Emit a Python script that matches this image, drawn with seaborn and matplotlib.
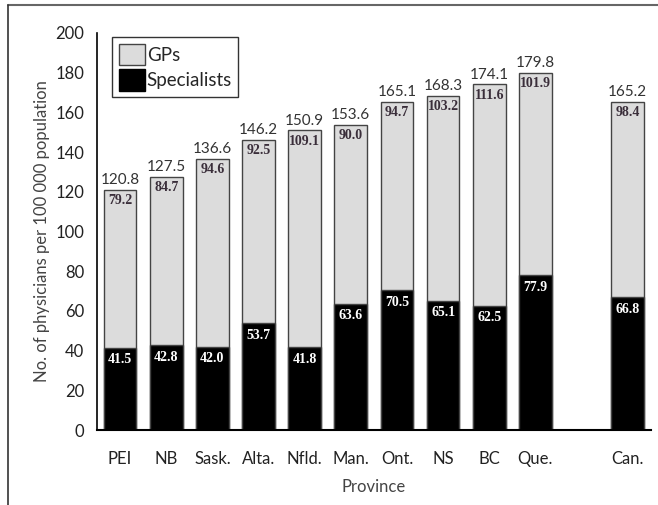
import matplotlib
matplotlib.use("Agg")
import matplotlib.pyplot as plt
from matplotlib.lines import Line2D
from matplotlib.patches import Patch
import seaborn as sns
import pandas as pd

provinces = ["PEI", "NB", "Sask.", "Alta.", "Nfld.", "Man.", "Ont.", "NS", "BC", "Que.", "Can."]
specialists = [41.5, 42.8, 42.0, 53.7, 41.8, 63.6, 70.5, 65.1, 62.5, 77.9, 66.8]
gps = [79.2, 84.7, 94.6, 92.5, 109.1, 90.0, 94.7, 103.2, 111.6, 101.9, 98.4]
totals = [120.8, 127.5, 136.6, 146.2, 150.9, 153.6, 165.1, 168.3, 174.1, 179.8, 165.2]
# empty slot between Que. and Can.
order = provinces[:10] + [" "] + provinces[10:]

df = pd.DataFrame({"province": provinces, "spec": specialists, "gp": gps, "total": totals})

sns.set_style("white")
plt.rcParams["font.family"] = ["Lato", "DejaVu Sans"]

fig = plt.figure(figsize=(6.58, 5.05), dpi=100)
ax = fig.add_axes([0.1474, 0.1485, 0.8416, 0.7862])

sns.barplot(data=df, x="province", y="total", order=order, color="#dcdcdc",
            width=0.71, edgecolor="#444444", linewidth=1.0, saturation=1, ax=ax)
sns.barplot(data=df, x="province", y="spec", order=order, color="black",
            width=0.71, edgecolor="#444444", linewidth=1.0, saturation=1, ax=ax)

pos = {p: i for i, p in enumerate(order)}
serif = ["Liberation Serif", "DejaVu Serif"]
for _, r in df.iterrows():
    x = pos[r["province"]]
    ax.annotate(f"{r['total']:.1f}", (x, r["total"]), xytext=(0, 2), textcoords="offset points",
                ha="center", va="bottom", fontsize=11, color="#333333")
    ax.annotate(f"{r['gp']:.1f}", (x, r["total"]), xytext=(0, -3), textcoords="offset points",
                ha="center", va="top", fontsize=10, fontweight="bold", color="#3a2e3a", family=serif)
    ax.annotate(f"{r['spec']:.1f}", (x, r["spec"]), xytext=(0, -4), textcoords="offset points",
                ha="center", va="top", fontsize=10, fontweight="bold", color="white", family=serif)

ax.set_xlim(-0.5, len(order) - 0.5)
ax.set_ylim(0, 200)
ax.set_yticks(range(0, 201, 20))
ax.set_xticks([i - 0.5 for i in range(len(order) + 1)], minor=True)
ax.tick_params(axis="x", which="major", length=0, pad=15, labelsize=12, labelcolor="#222222")
ax.tick_params(axis="x", which="minor", length=7, width=1, color="#555555", direction="out")
ax.tick_params(axis="y", length=7, width=1, color="#555555", direction="out", labelsize=12,
               labelcolor="#222222", pad=2)
ax.set_xlabel("Province", fontsize=12, color="#444444", labelpad=9)
ax.set_ylabel("No. of physicians per 100 000 population", fontsize=12, color="#444444", labelpad=4)

for s in ["top", "right"]:
    ax.spines[s].set_visible(False)
ax.spines["left"].set_color("black")
ax.spines["bottom"].set_color("black")
ax.spines["left"].set_linewidth(1.2)
ax.spines["bottom"].set_linewidth(1.5)

handles = [Patch(facecolor="#dcdcdc", edgecolor="#444444", label="GPs"),
           Patch(facecolor="black", edgecolor="black", label="Specialists")]
leg = ax.legend(handles=handles, loc="upper left", bbox_to_anchor=(0.027, 0.99), borderaxespad=0,
                fontsize=13.5, handlelength=1.4, handleheight=1.4, handletextpad=0.1,
                labelspacing=0.2, borderpad=0.35, fancybox=False, framealpha=1, edgecolor="#333333")
leg.get_frame().set_linewidth(1.0)

# outer frame (top and left only)
fig.add_artist(Line2D([0.012, 1.0], [0.99, 0.99], transform=fig.transFigure, color="#666666", lw=1.5))
fig.add_artist(Line2D([0.012, 0.012], [0.0, 0.99], transform=fig.transFigure, color="#333333", lw=1.2))

fig.savefig("out.png", dpi=100)
